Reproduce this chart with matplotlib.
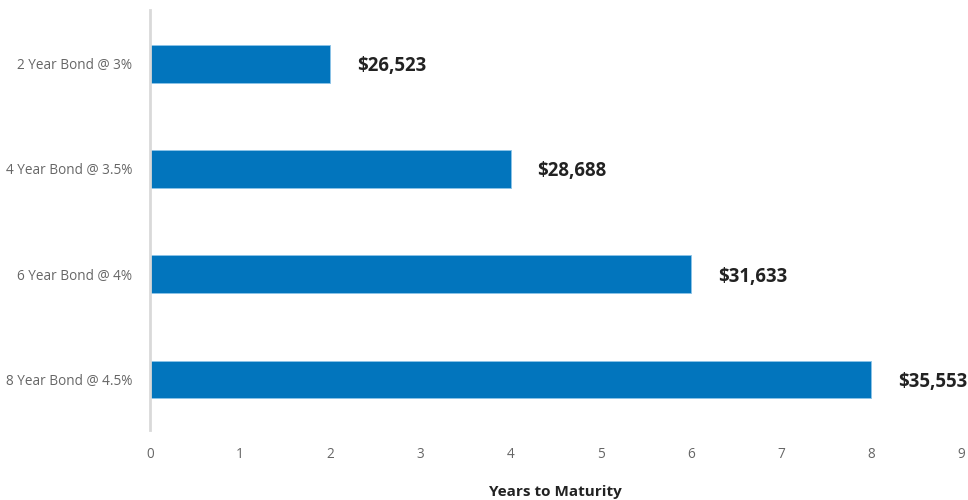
import matplotlib.pyplot as plt

bonds = ['2 Year Bond @ 3%', '4 Year Bond @ 3.5%', '6 Year Bond @ 4%', '8 Year Bond @ 4.5%']
years = [2, 4, 6, 8]
values = ['$26,523', '$28,688', '$31,633', '$35,553']

plt.rcParams['font.family'] = ['Open Sans', 'DejaVu Sans']

def main():
    fig = plt.figure(figsize=(9.68, 5.0), dpi=100)
    ax = fig.add_axes([0.155, 0.14, 0.838, 0.84])

    pos = list(range(len(bonds)))
    ax.barh(pos, years, height=0.36, color='#0275bd', edgecolor='#8cc4e8', linewidth=0.6)

    # value labels to the right of each bar
    for p, y, v in zip(pos, years, values):
        ax.text(y + 0.3, p, v, va='center_baseline', ha='left', fontsize=13.4,
                fontweight='bold', color='#222222')

    ax.set_xlim(0, 9)
    ax.set_ylim(3.48, -0.51)
    ax.set_yticks(pos)
    ax.set_yticklabels(bonds)
    ax.set_xticks(range(10))

    ax.tick_params(axis='both', length=0, labelsize=9.8, labelcolor='#666666')
    ax.tick_params(axis='x', pad=12)
    ax.tick_params(axis='y', pad=13)

    for s in ['top', 'right', 'bottom']:
        ax.spines[s].set_visible(False)
    ax.spines['left'].set_color('#d9d9d9')
    ax.spines['left'].set_linewidth(2)

    ax.set_xlabel('Years to Maturity', fontsize=11, fontweight='bold',
                  color='#222222', labelpad=17)

    fig.savefig('out.png', dpi=100)

main()
